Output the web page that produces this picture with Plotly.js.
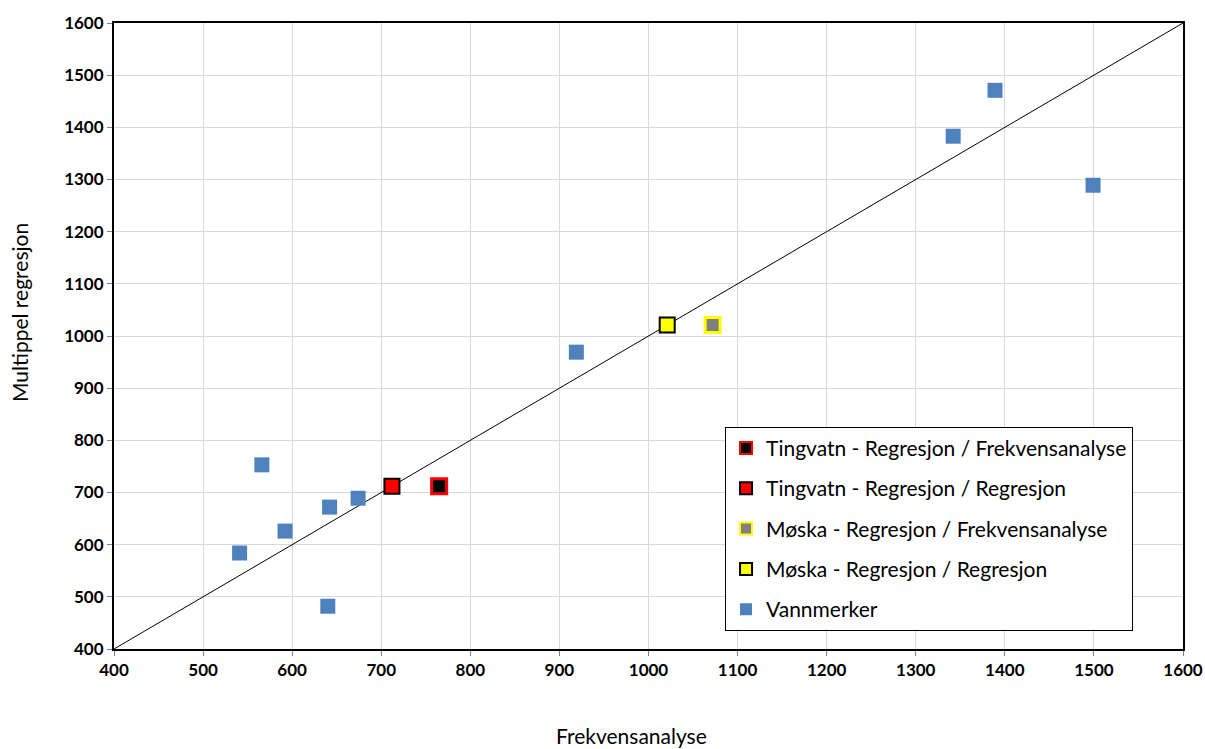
<!DOCTYPE html>
<html>
<head>
<meta charset="utf-8">
<script src="https://cdn.plot.ly/plotly-3.0.1.min.js"></script>
<style>html,body{margin:0;padding:0;background:#fff;}#chart{width:1205px;height:749px;}</style>
</head>
<body>
<div id="chart"></div>
<script>
// Data
const vannX = [541, 566, 592, 642, 674, 640, 919, 1342, 1389, 1499];
const vannY = [584, 753, 626, 672, 689, 482, 969, 1383, 1471, 1289];
const tingFrekX = [765], tingFrekY = [712];
const tingRegX = [712], tingRegY = [712];
const moskaFrekX = [1072], moskaFrekY = [1021];
const moskaRegX = [1021], moskaRegY = [1021];
const lineX = [400, 1600], lineY = [400, 1600];
const tickVals = [400,500,600,700,800,900,1000,1100,1200,1300,1400,1500,1600];
const xTitle = 'Frekvensanalyse';
const yTitle = 'Multippel regresjon';

const fam = 'Lato, "Open Sans", sans-serif';
const legendFont = {family: fam, size: 21, color: '#000'};

const traces = [
  {x: lineX, y: lineY, mode: 'lines', line: {color: '#000', width: 1}, showlegend: false, hoverinfo: 'skip'},
  {x: tingFrekX, y: tingFrekY, mode: 'markers', name: 'Tingvatn - Regresjon / Frekvensanalyse', legendgroup: 'a',
   marker: {symbol: 'square', size: 15, color: '#000', line: {color: '#FF0000', width: 3}}},
  {x: tingRegX, y: tingRegY, mode: 'markers', name: 'Tingvatn - Regresjon / Regresjon', legendgroup: 'b',
   marker: {symbol: 'square', size: 15, color: '#FF0000', line: {color: '#000', width: 2}}},
  {x: moskaFrekX, y: moskaFrekY, mode: 'markers', name: 'Møska - Regresjon / Frekvensanalyse', legendgroup: 'c',
   marker: {symbol: 'square', size: 15, color: '#808080', line: {color: '#FFFF00', width: 3}}},
  {x: moskaRegX, y: moskaRegY, mode: 'markers', name: 'Møska - Regresjon / Regresjon', legendgroup: 'd',
   marker: {symbol: 'square', size: 15, color: '#FFFF00', line: {color: '#000', width: 2}}},
  {x: vannX, y: vannY, mode: 'markers', name: 'Vannmerker', legendgroup: 'e',
   marker: {symbol: 'square', size: 15, color: '#4F81BD', line: {width: 0}}}
];

const axisCommon = {
  range: [400, 1600], tickvals: tickVals, ticktext: tickVals.map(String),
  showgrid: true, gridcolor: '#D9D9D9', gridwidth: 1,
  showline: true, linecolor: '#000', linewidth: 2, mirror: true,
  ticks: 'outside', ticklen: 5, tickcolor: '#808080', tickwidth: 1,
  zeroline: false,
  tickfont: {family: fam, size: 17, color: '#000', weight: 'bold'}
};

const layout = {
  width: 1205, height: 749,
  margin: {l: 114, r: 22, t: 23, b: 100},
  paper_bgcolor: '#fff', plot_bgcolor: '#fff',
  xaxis: Object.assign({}, axisCommon),
  yaxis: Object.assign({}, axisCommon),
  annotations: [
    {text: xTitle, xref: 'paper', yref: 'paper', x: (631 - 114) / 1069, y: -(735 - 649) / 626,
     xanchor: 'center', yanchor: 'middle', showarrow: false, font: {family: fam, size: 21, color: '#000'}},
    {text: yTitle, xref: 'paper', yref: 'paper', x: (20 - 114) / 1069, y: (649 - 312) / 626,
     xanchor: 'center', yanchor: 'middle', textangle: -90, showarrow: false, font: {family: fam, size: 21, color: '#000'}}
  ],
  legend: {
    x: 0.5716, y: 0.029, xanchor: 'left', yanchor: 'bottom',
    bgcolor: '#fff', bordercolor: '#000', borderwidth: 1,
    font: legendFont, traceorder: 'grouped', tracegroupgap: 10,
    itemsizing: 'constant', itemwidth: 30
  },
  showlegend: true
};

Plotly.newPlot('chart', traces, layout, {displayModeBar: false, staticPlot: true});
</script>
</body>
</html>
